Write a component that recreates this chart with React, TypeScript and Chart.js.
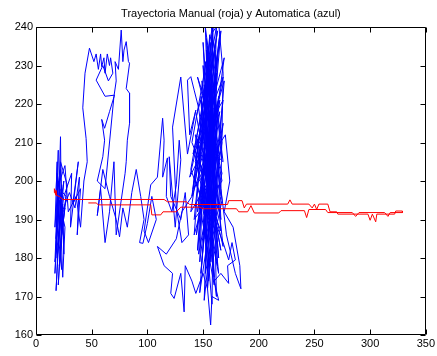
import React, { useEffect, useRef } from "react";
import { Chart, registerables } from "chart.js";

Chart.register(...registerables);

const titleText = "Trayectoria Manual (roja) y Automatica (azul)";
const xTicks = [0, 50, 100, 150, 200, 250, 300, 350];
const yTicks = [160, 170, 180, 190, 200, 210, 220, 230, 240];

// Manual trajectory (red): outgoing and return strands
const redOut: [number, number][] = [
  [17, 197], [16.5, 198], [17.5, 196.5], [18, 197.5], [18, 196.3], [21, 196], [24, 195.2], [115, 195.2],
  [118, 194.6], [135, 194.6], [138, 193.9], [172, 193.9], [173, 194.9], [185, 194.9], [187, 193],
  [189, 194], [226, 194], [228, 195.1], [230, 194], [245, 194], [248, 193], [250, 194], [252, 192.6],
  [254, 194], [262, 194], [264, 192], [270, 192], [271, 191.4], [298, 191.4], [300, 189.8],
  [302, 191.4], [305, 189.4], [306, 191.4], [322, 191.4], [323, 192.2], [329, 192.2],
];
const redBack: [number, number][] = [
  [329, 191.8], [318, 191.8], [316, 190.8], [313, 191.8], [290, 191.8], [287, 190.8], [284, 191.8],
  [262, 191.8], [260, 192.6], [245, 192.6], [243, 190.5], [241, 192.3], [220, 192.3], [218, 191.7],
  [196, 191.7], [193, 193.6], [190, 192], [182, 192], [180, 192.8], [150, 192.8], [147, 193.2],
  [130, 193.2], [126, 192], [114, 192], [112, 191.2], [104, 191.2], [103, 193.8], [56, 193.8],
  [54, 194.3], [47, 194.3],
];

// Automatic trajectory (blue), traced in segments
const blueLeft: [number, number][] = [
  [18, 197], [19, 205], [17, 188], [20, 200], [18, 182], [21, 195], [17, 176], [19, 190], [22, 203],
  [18, 185], [20, 208], [19, 193], [17, 179], [21, 187], [23, 199], [18, 171.5], [20, 184], [22, 196],
  [19, 202], [24, 190], [21, 178], [23, 185], [22, 211.5], [21, 201], [22, 194], [25, 200], [19, 180],
  [23, 192], [26, 188], [24, 175], [21, 198], [27, 196], [22, 183], [20, 173], [24, 194], [25, 181],
  [22, 205], [28, 199], [23, 186], [26, 193], [21, 190], [30, 197], [35, 193], [39, 201], [37, 186],
  [40, 198], [33, 194], [38, 205], [31, 188], [32, 202], [25, 196], [20, 186], [23, 177], [19, 198],
  [26, 204], [29, 192],
];
const blueTall: [number, number][] = [
  [36, 196], [40, 188], [43, 200], [46, 205], [45, 211], [42, 219], [44, 228], [48, 234.5], [52, 231],
  [54, 233], [56, 229], [58, 233], [59, 229.7], [61, 232], [62, 228], [64, 233], [66, 230], [67, 232],
  [69, 228], [65, 226], [60, 230], [54, 226.2], [62, 222], [70.5, 222.3], [66, 218], [61.6, 213.7],
  [59, 216], [61.6, 210.6], [60, 206.3], [55, 200], [62, 198], [70, 222], [72, 226], [71, 231],
  [74, 229], [76.5, 239.2], [78, 231], [79, 234], [81, 236.2], [83, 231], [84, 230.6], [81, 224],
  [84, 222.8], [84, 215], [82, 210.6], [81, 205], [80, 202],
];
const blueMid: [number, number][] = [
  [76, 194], [72, 186], [70, 205], [66, 192], [62, 184], [58, 198], [55, 191], [60, 203], [66, 196],
  [72, 190], [75, 185.5], [78, 193], [82, 188], [86, 197], [90, 203], [94, 196], [97, 190], [93, 184],
  [96, 183.8], [100, 189], [104, 196], [108, 190], [101, 184], [97, 187], [103, 199], [109, 201],
  [113.7, 216.3], [115, 210.6], [113.7, 201], [118, 206], [117, 196], [122, 192], [126, 199],
  [128.6, 210.6], [130, 205.5], [125, 188], [119.6, 206.3], [121, 196], [130, 190], [134, 197],
  [137, 186], [131, 184], [126, 193], [122.6, 214], [130, 227], [136, 207], [143.5, 218.4], [138, 212],
  [136, 226.2], [139, 227.1], [142, 223.6], [146, 219], [149, 212], [144, 203], [140, 196], [131, 192],
  [126, 185], [117, 181], [109, 183], [115, 178], [122.6, 176], [121, 170.8], [124, 169.5], [130, 176],
  [133, 166], [134, 178], [140, 174], [143.5, 170.8], [150, 176], [154, 172], [156.8, 162.6], [158, 170],
  [164, 169], [160, 174], [166, 176], [173, 173.4], [172, 178], [179, 179.5], [176, 184], [173, 179.5],
  [168, 184], [160, 190],
];
const blueCluster: [number, number][] = [
  [150, 195], [162, 228], [145, 182], [158, 238], [166, 190], [148, 221], [160, 175], [152, 240],
  [168, 205], [143, 212], [163, 178], [155, 232], [140, 196], [165, 218], [150, 186], [161, 236],
  [146, 203], [169, 226], [154, 172], [159, 241], [142, 190], [167, 200], [151, 225], [157, 179],
  [163, 233], [138, 201], [160, 214], [148, 176], [166, 239], [153, 208], [144, 186], [164, 222],
  [156, 193], [150, 230], [168, 183], [145, 211], [162, 170], [157, 236], [141, 198], [165, 207],
  [152, 218], [159, 188], [153, 234], [167, 195], [154, 177], [149, 214], [163, 239], [139, 192],
  [161, 203], [155, 226], [146, 181], [168, 215], [151, 169], [158, 230], [143, 205], [166, 187],
  [153, 237], [160, 197], [148, 222], [164, 176], [142, 208], [157, 219], [169, 232], [150, 191],
  [155, 174], [162, 212], [145, 227], [167, 202], [152, 185], [159, 241], [140, 210], [163, 193],
  [154, 229], [147, 179], [165, 221], [149, 199], [158, 168], [161, 234], [144, 217], [166, 182],
  [151, 206], [156, 238], [142, 186], [164, 209], [153, 223], [160, 173], [146, 195], [168, 227],
  [150, 213], [157, 184], [162, 240], [139, 203], [155, 190], [163, 216], [152, 231], [166, 196],
  [152, 176], [158, 224], [143, 200], [161, 187], [154, 235], [167, 210], [147, 171], [159, 219],
  [151, 202], [165, 238], [145, 192], [156, 212], [164, 180], [149, 226], [160, 198], [153, 183],
  [168, 221], [141, 207], [157, 229], [162, 191], [150, 236], [155, 205], [170, 212], [174, 200],
  [169, 192], [177, 188], [183, 178], [184, 172], [179, 176], [171, 186], [166, 198], [168, 228],
  [164, 241], [159, 238.8], [157, 241], [162, 230], [158, 210],
];

const FONT = "'Liberation Sans', Arial, sans-serif";

const toPts = (arr: [number, number][]) => arr.map(([x, y]) => ({ x, y }));

const framePlugin = {
  id: "matlabFrame",
  afterDatasetsDraw(chart: any) {
    const { ctx, chartArea, scales } = chart;
    const { left, right, top, bottom } = chartArea;
    const L = Math.round(left) + 0.5;
    const R = Math.round(right) - 0.5;
    const T = Math.round(top) + 0.5;
    const B = Math.round(bottom) - 0.5;
    ctx.save();
    ctx.strokeStyle = "#000";
    ctx.lineWidth = 1;
    ctx.beginPath();
    ctx.rect(L, T, R - L, B - T);
    const tl = 5;
    xTicks.forEach((v) => {
      const px = Math.round(scales.x.getPixelForValue(v)) + 0.5;
      ctx.moveTo(px, B);
      ctx.lineTo(px, B - tl);
      ctx.moveTo(px, T);
      ctx.lineTo(px, T + tl);
    });
    yTicks.forEach((v) => {
      const py = Math.round(scales.y.getPixelForValue(v)) + 0.5;
      ctx.moveTo(L, py);
      ctx.lineTo(L + tl, py);
      ctx.moveTo(R, py);
      ctx.lineTo(R - tl, py);
    });
    ctx.stroke();
    ctx.fillStyle = "#000";
    ctx.font = `11px ${FONT}`;
    ctx.textAlign = "center";
    ctx.textBaseline = "alphabetic";
    ctx.fillText(titleText, (left + right) / 2, 17);
    ctx.restore();
  },
};

export default function App() {
  const ref = useRef<HTMLCanvasElement>(null);
  useEffect(() => {
    document.body.style.margin = "0";
    const canvas = ref.current;
    if (!canvas) return;
    const chart = new Chart(canvas, {
      type: "scatter",
      data: {
        datasets: [
          {
            label: "Manual",
            data: toPts([...redOut, ...redBack]),
            showLine: true,
            borderColor: "#ff0000",
            backgroundColor: "#ff0000",
            borderWidth: 1,
            pointRadius: 0,
            order: 0,
          },
          {
            label: "Automatica",
            data: toPts([...blueLeft, ...blueTall, ...blueMid, ...blueCluster]),
            showLine: true,
            borderColor: "#0000ff",
            backgroundColor: "#0000ff",
            borderWidth: 1,
            pointRadius: 0,
            order: 1,
          },
        ],
      },
      options: {
        responsive: false,
        animation: false,
        devicePixelRatio: 1,
        layout: { padding: { top: 27, right: 9, left: 0, bottom: 0 } },
        plugins: {
          legend: { display: false },
          title: { display: false },
          tooltip: { enabled: false },
        },
        scales: {
          x: {
            type: "linear",
            min: 0,
            max: 350,
            grid: { display: false, drawTicks: false },
            border: { display: false },
            ticks: {
              stepSize: 50,
              padding: 2,
              color: "#000",
              font: { size: 11, family: FONT },
              maxRotation: 0,
            },
            afterFit: (s: any) => {
              s.height = 21;
            },
          },
          y: {
            type: "linear",
            min: 160,
            max: 240,
            grid: { display: false, drawTicks: false },
            border: { display: false },
            ticks: {
              stepSize: 10,
              padding: 3,
              color: "#000",
              font: { size: 11, family: FONT },
            },
            afterFit: (s: any) => {
              s.width = 36;
            },
          },
        },
      },
      plugins: [framePlugin],
    });
    return () => chart.destroy();
  }, []);
  return (
    <div style={{ width: 437, height: 356, background: "#fff" }}>
      <canvas ref={ref} width={437} height={356} style={{ display: "block" }} />
    </div>
  );
}
